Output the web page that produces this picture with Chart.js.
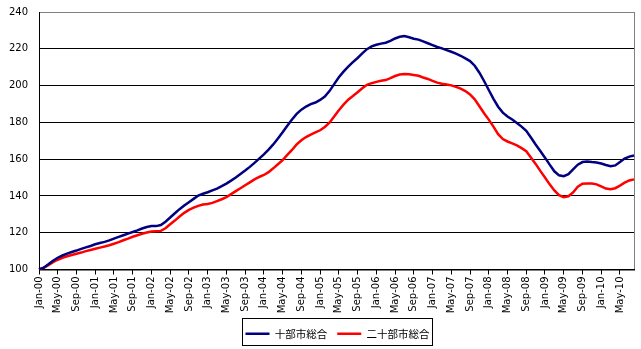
<!DOCTYPE html>
<html>
<head>
<meta charset="utf-8">
<script src="https://cdn.jsdelivr.net/npm/chart.js@4.4.0/dist/chart.umd.min.js"></script>
<style>
  html, body { margin: 0; padding: 0; background: #fff; }
  canvas { display: block; }
</style>
</head>
<body>
<canvas id="indexChart" width="641" height="349"></canvas>
<script>
// monthly index, Jan 2000 = 100, through Aug 2010
const monthNames = ['Jan', 'Feb', 'Mar', 'Apr', 'May', 'Jun', 'Jul', 'Aug', 'Sep', 'Oct', 'Nov', 'Dec'];
const startYear = 2000;
const seriesNames = ['十部市総合', '二十部市総合'];
const yTicks = [100, 120, 140, 160, 180, 200, 220, 240];

const tenCities = [
  100.0, 101.0, 102.8, 104.8, 106.4, 107.6, 108.6, 109.5, 110.3, 111.2, 112.0, 112.8,
  113.7, 114.4, 115.0, 115.8, 116.8, 117.7, 118.6, 119.5, 120.4, 121.3, 122.3, 123.1,
  123.6, 123.6, 124.2, 126.0, 128.3, 130.6, 132.8, 134.8, 136.6, 138.4, 140.2, 141.2,
  142.0, 143.0, 144.0, 145.3, 146.7, 148.3, 150.0, 151.9, 153.8, 155.8, 158.0, 160.3,
  162.6, 165.2, 168.0, 171.2, 174.6, 178.2, 181.6, 184.6, 186.9, 188.6, 189.9, 190.8,
  192.2, 194.0, 197.0, 200.8, 204.5, 207.6, 210.3, 212.7, 215.0, 217.5, 219.8, 221.3,
  222.2, 222.8, 223.3, 224.3, 225.6, 226.5, 226.9, 226.3, 225.5, 225.0, 224.0, 223.0,
  222.0, 221.0, 220.2, 219.3, 218.4, 217.4, 216.2, 214.8, 213.3, 210.8, 207.0, 202.5,
  197.6, 192.8, 188.5, 185.3, 183.2, 181.6, 179.7, 177.7, 175.4, 171.8, 168.0, 164.4,
  160.8, 157.0, 153.4, 151.2, 150.7, 151.8, 154.4, 157.0, 158.4, 158.7, 158.4, 158.2,
  157.6, 156.8, 156.2, 156.6, 158.4, 160.3, 161.4, 162.0
];

const twentyCities = [
  100.0, 100.9, 102.4, 104.0, 105.3, 106.3, 107.2, 107.9, 108.6, 109.2, 110.0, 110.6,
  111.3, 111.9, 112.5, 113.2, 114.0, 114.9, 115.9, 116.8, 117.8, 118.6, 119.4, 120.1,
  120.6, 120.8, 121.0, 122.4, 124.6, 126.6, 128.8, 130.8, 132.4, 133.6, 134.6, 135.3,
  135.6, 136.2, 137.2, 138.2, 139.3, 141.0, 142.6, 144.2, 145.8, 147.4, 149.0, 150.3,
  151.4, 152.9, 155.0, 157.2, 159.5, 162.3, 165.0, 168.0, 170.3, 172.0, 173.3, 174.5,
  175.7, 177.5, 179.8, 183.2, 186.6, 189.6, 192.3, 194.3, 196.4, 198.5, 200.4, 201.3,
  202.0, 202.6, 203.0, 204.0, 205.2, 206.0, 206.3, 206.1, 205.7, 205.3, 204.4, 203.6,
  202.6, 201.6, 201.0, 200.6, 200.1, 199.3, 198.3, 197.0, 195.2, 192.5, 188.8, 185.0,
  181.5, 177.7, 173.6, 170.9, 169.6, 168.6, 167.5, 166.0, 164.3, 160.9, 157.4, 153.6,
  150.0, 146.3, 143.0, 140.4, 139.3, 139.8, 141.9, 145.0, 146.6, 146.8, 146.7, 146.3,
  145.2, 144.0, 143.6, 144.2, 145.6, 147.2, 148.4, 149.0
];

const monthLabels = tenCities.map((_, i) => {
  const yy = String((startYear + Math.floor(i / 12)) % 100).padStart(2, '0');
  return monthNames[i % 12] + '-' + yy;
});

const axisFont = { family: "'DejaVu Sans', 'Noto Sans CJK JP', sans-serif", size: 10 };
const legendShift = 17;

// grey plot frame behind the axes, boxed legend nudged right
const plotFrame = {
  id: 'plotFrame',
  afterUpdate(chart) {
    const legend = chart.legend;
    legend.left += legendShift;
    legend.right += legendShift;
    legend.legendHitBoxes.forEach(hb => { hb.left += legendShift; });
  },
  beforeDraw(chart) {
    const { ctx, chartArea: a } = chart;
    ctx.save();
    ctx.fillStyle = '#fff';
    ctx.fillRect(0, 0, chart.width, chart.height);
    ctx.strokeStyle = '#808080';
    ctx.lineWidth = 1;
    ctx.strokeRect(Math.round(a.left) + 0.5, Math.round(a.top) + 0.5,
      Math.round(a.right - a.left), Math.round(a.bottom - a.top));
    ctx.restore();
  },
  afterDraw(chart) {
    const boxes = chart.legend.legendHitBoxes;
    if (!boxes.length) return;
    const first = boxes[0];
    const last = boxes[boxes.length - 1];
    const ctx = chart.ctx;
    ctx.save();
    ctx.strokeStyle = '#000';
    ctx.lineWidth = 1;
    const x0 = Math.round(first.left - 4) + 0.5;
    const x1 = Math.round(last.left + last.width + 3) + 0.5;
    const y0 = Math.round(first.top - 11) + 0.5;
    const y1 = Math.round(first.top + first.height + 6) + 0.5;
    ctx.strokeRect(x0, y0, x1 - x0, y1 - y0);
    ctx.restore();
  }
};

new Chart(document.getElementById('indexChart'), {
  type: 'line',
  data: {
    labels: monthLabels,
    datasets: [
      {
        label: seriesNames[0],
        data: tenCities,
        borderColor: '#000080',
        backgroundColor: '#000080',
        borderWidth: 2.5,
        pointRadius: 0,
        pointStyle: 'line',
        tension: 0
      },
      {
        label: seriesNames[1],
        data: twentyCities,
        borderColor: '#ff0000',
        backgroundColor: '#ff0000',
        borderWidth: 2.5,
        pointRadius: 0,
        pointStyle: 'line',
        tension: 0
      }
    ]
  },
  options: {
    responsive: false,
    animation: false,
    layout: { padding: { left: 0, right: 0, top: 12, bottom: 0 } },
    plugins: {
      title: { display: false },
      tooltip: { enabled: false },
      legend: {
        position: 'bottom',
        labels: {
          usePointStyle: true,
          pointStyleWidth: 24,
          padding: 10,
          color: '#000',
          font: { family: "'Noto Sans CJK JP', sans-serif", size: 10.5 }
        }
      }
    },
    scales: {
      x: {
        type: 'category',
        offset: false,
        afterFit: scale => {
          scale.height = 49;
          scale.paddingLeft = 0;
          scale.paddingRight = 7;
        },
        border: { color: '#000', width: 1 },
        grid: {
          drawOnChartArea: false,
          drawTicks: true,
          tickLength: 5,
          color: c => (c.index % 4 === 0 ? '#000' : 'rgba(0,0,0,0)')
        },
        ticks: {
          autoSkip: false,
          minRotation: 90,
          maxRotation: 90,
          padding: 2,
          color: '#000',
          font: axisFont,
          callback: (v, i) => (i % 4 === 0 ? monthLabels[i] : '')
        }
      },
      y: {
        min: yTicks[0],
        max: yTicks[yTicks.length - 1],
        afterFit: scale => {
          scale.width = 39;
          scale.paddingTop = 0;
          scale.paddingBottom = 0;
        },
        afterBuildTicks: scale => { scale.ticks = yTicks.map(v => ({ value: v })); },
        border: { color: '#000', width: 1 },
        grid: {
          drawTicks: false,
          color: c => (c.tick && c.tick.value === 240 ? '#808080' : '#000')
        },
        ticks: {
          padding: 11,
          color: '#000',
          font: axisFont
        }
      }
    }
  },
  plugins: [plotFrame]
});
</script>
</body>
</html>
